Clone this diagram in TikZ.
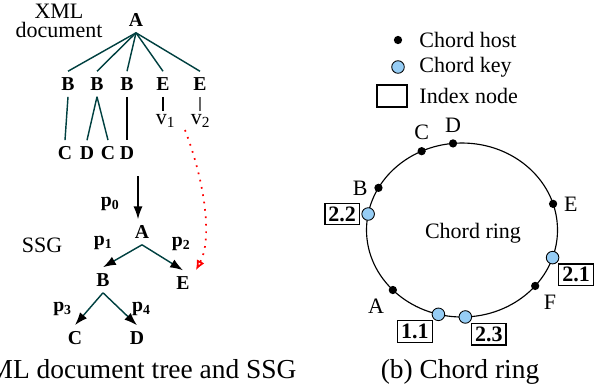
\documentclass[tikz,border=0pt]{standalone}
\usepackage{fontspec}
\setmainfont{Liberation Serif}
\usetikzlibrary{arrows.meta,positioning}
\definecolor{edgeteal}{RGB}{0,64,64}
\definecolor{keyblue}{RGB}{150,205,245}
\begin{document}
\begin{tikzpicture}[x=0.35pt,y=-0.35pt,
  small/.style={font=\fontsize{7.7}{6.4}\selectfont,inner sep=1pt},
  tag/.style={font=\fontsize{6.9}{7}\selectfont\bfseries,inner sep=2pt,text=black},
  tree/.style={edgeteal,line width=0.5pt},
  ssg/.style={edgeteal,line width=0.5pt,-{Latex[length=4.5pt,width=3.2pt,color=black]}},
  host/.style={circle,fill=black,inner sep=0pt,minimum size=2.9pt},
  key/.style={circle,draw=black,line width=0.3pt,fill=keyblue,inner sep=0pt,minimum size=4.4pt},
  idx/.style={draw,line width=0.4pt,font=\fontsize{7.7}{8}\selectfont\bfseries,inner sep=1.2pt},
  captext/.style={font=\fontsize{9.6}{11}\selectfont,inner sep=0pt}]
\useasboundingbox (0,0) rectangle (613,388);

\node[small,align=center] (xmldoc) at (59,21) {XML\\document};
\node[tag] (a) at (136,20) {A};
\node[tag] (b1) at (68,84) {B};
\node[tag] (b2) at (97,84) {B};
\node[tag] (b3) at (127,84) {B};
\node[tag] (e1) at (163,84) {E};
\node[tag] (e2) at (200,84) {E};
\node[tag] (c1) at (65,153) {C};
\node[tag] (d1) at (87,153) {D};
\node[tag] (c2) at (108,153) {C};
\node[tag] (d2) at (127,153) {D};
\node[small] (v1) at (166,121) {v\textsubscript{1}};
\node[small] (v2) at (201,121) {v\textsubscript{2}};
\foreach \n in {b1,b2,b3,e1,e2}
  \draw[tree] (a.south) -- (\n.north);
\draw[tree] (b1.south) -- (c1.north);
\draw[tree] (b2.south) -- (d1.north);
\draw[tree] (b2.south) -- (c2.north);
\draw[line width=0.4pt] (b3.south) -- (d2.north);
\draw[line width=0.4pt] (e1.south) -- (e1.south |- v1.north);
\draw[line width=0.4pt,black!60] (e2.south) -- (e2.south |- v2.north);

\node[small] (ssg) at (42,245) {SSG};
\node[tag] (sa) at (142,232) {A};
\node[tag] (sb) at (103,280) {B};
\node[tag] (se) at (183,283) {E};
\node[tag] (sc) at (75,338) {C};
\node[tag] (sd) at (137,338) {D};
\coordinate (sin) at (138,176);
\draw[ssg,black] (sin) -- node[tag,pos=.65,left=4pt] {p\textsubscript{0}} (sin |- sa.north);
\draw[ssg] (sa.south) -- node[tag,above left=0pt and 1pt] {p\textsubscript{1}} (sb.north);
\draw[ssg] (sa.south) -- node[tag,above right=0pt and 1pt] {p\textsubscript{2}} (se.north);
\draw[ssg] (sb.south) -- node[tag,left=3.5pt] {p\textsubscript{3}} (sc.north);
\draw[ssg] (sb.south) -- node[tag,right=2pt] {p\textsubscript{4}} (sd.north);
\coordinate (vtail) at (185,130);
\draw[red,dotted,line width=0.6pt,-{Latex[open,length=3.5pt,width=3pt]}]
  (vtail) .. controls (206,185) and (212,240) .. (se.north east);

\node[host] (hostleg) at (398,40) {};
\node[small,anchor=west] (hosttxt) at (416,40) {Chord host};
\node[key] (keyleg) at (398,67) {};
\node[small,anchor=west] (keytxt) at (416,67) {Chord key};
\node[draw,line width=0.4pt,minimum width=10.5pt,minimum height=7.7pt,inner sep=0pt] (idxleg) at (392,96) {};
\node[small,anchor=west] (idxtxt) at (416,96) {Index node};

\coordinate (ringc) at (462,230);
\draw[line width=0.4pt] (ringc) ellipse [x radius=95.5, y radius=87];
\node[small] (ringtxt) at (473,233) {Chord ring};
\foreach \ang/\nm/\pos in {95.4/D/above,115/C/above,151/B/left,17.5/E/right,320/F/below right,223.6/A/below left}
  \path (ringc) ++(-\ang:95.5 and 87) node[host,label={[small,label distance=1pt]\pos:\nm}] (h\nm) {};
\foreach \ang/\nm/\pos/\lbl in {169.4/k22/left/2.2,341.5/k21/below right/2.1,255.7/k11/below left/1.1,272/k23/below right/2.3}
  \path (ringc) ++(-\ang:95.5 and 87) node[key,label={[idx,label distance=0.5pt]\pos:\lbl}] (\nm) {};

\node[captext,anchor=base] (capa) at (114,378) {(a) XML document tree and SSG};
\node[captext,anchor=base] (capb) at (460,378) {(b) Chord ring};
\end{tikzpicture}
\end{document}
